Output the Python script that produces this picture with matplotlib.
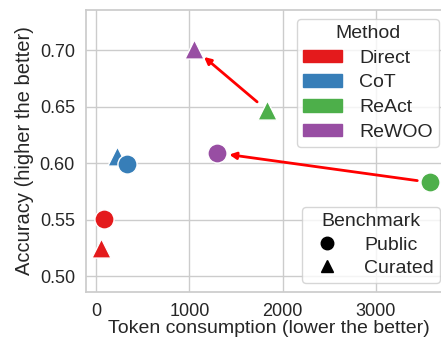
import matplotlib
matplotlib.use("Agg")
import matplotlib.pyplot as plt
import matplotlib.patches as mpatches
from matplotlib.lines import Line2D
import seaborn as sns

sns.set_theme(style="whitegrid")
plt.rcParams['font.family'] = ['Liberation Sans', 'DejaVu Sans']

# data
methods = ["Direct", "CoT", "ReAct", "ReWOO"]
colors = ["#e41a1c", "#377eb8", "#4daf4a", "#984ea3"]
public_tokens = [85, 330, 3580, 1295]
public_acc = [0.551, 0.599, 0.583, 0.609]
curated_tokens = [55, 225, 1830, 1055]
curated_acc = [0.525, 0.606, 0.647, 0.701]

fig = plt.figure(figsize=(4.41, 3.37), dpi=100)
ax = fig.add_axes([86 / 441, 1 - 292 / 337, (452 - 86) / 441, (292 - 10) / 337])

for i in range(len(methods)):
    ax.scatter(curated_tokens[i], curated_acc[i], marker="^", s=190, color=colors[i],
               edgecolor="white", linewidth=1, zorder=3)
    ax.scatter(public_tokens[i], public_acc[i], marker="o", s=190, color=colors[i],
               edgecolor="white", linewidth=1, zorder=3)

# arrows ReAct -> ReWOO
ax.annotate("", xy=(curated_tokens[3], curated_acc[3]), xytext=(curated_tokens[2], curated_acc[2]),
            arrowprops=dict(arrowstyle="-|>", color="red", lw=2, mutation_scale=10,
                            shrinkA=9, shrinkB=9), zorder=2)
ax.annotate("", xy=(public_tokens[3], public_acc[3]), xytext=(public_tokens[2], public_acc[2]),
            arrowprops=dict(arrowstyle="-|>", color="red", lw=2, mutation_scale=10,
                            shrinkA=9, shrinkB=9), zorder=2)

ax.set_xlim(-110, 3820)
ax.set_ylim(0.486, 0.7354)
ax.set_xticks([0, 1000, 2000, 3000])
ax.set_yticks([0.50, 0.55, 0.60, 0.65, 0.70])
ax.tick_params(labelsize=13, pad=2)
ax.set_xlabel("Token consumption (lower the better)", fontsize=14, labelpad=0)
ax.set_ylabel("Accuracy (higher the better)", fontsize=14.5, labelpad=4)
for s in ax.spines.values():
    s.set_color("#cccccc")

method_handles = [mpatches.Patch(color=c, label=m) for m, c in zip(methods, colors)]
leg1 = ax.legend(handles=method_handles, title="Method", loc="upper left",
                 bbox_to_anchor=(297 / 441, 1 - 19 / 337), bbox_transform=fig.transFigure,
                 borderaxespad=0, fontsize=14, title_fontsize=14,
                 handlelength=2.0, handleheight=0.6,
                 borderpad=0.3, labelspacing=0.4, handletextpad=0.9)
ax.add_artist(leg1)

bench_handles = [
    Line2D([], [], marker="o", color="black", linestyle="", markersize=9, label="Public"),
    Line2D([], [], marker="^", color="black", linestyle="", markersize=9, label="Curated"),
]
ax.legend(handles=bench_handles, title="Benchmark", loc="lower left",
          bbox_to_anchor=(302 / 441, 1 - 283 / 337), bbox_transform=fig.transFigure,
          borderaxespad=0, fontsize=14, title_fontsize=14, borderpad=0.3,
          handlelength=2.0, labelspacing=0.3, handletextpad=0.9)

fig.savefig("out.png", dpi=100)
